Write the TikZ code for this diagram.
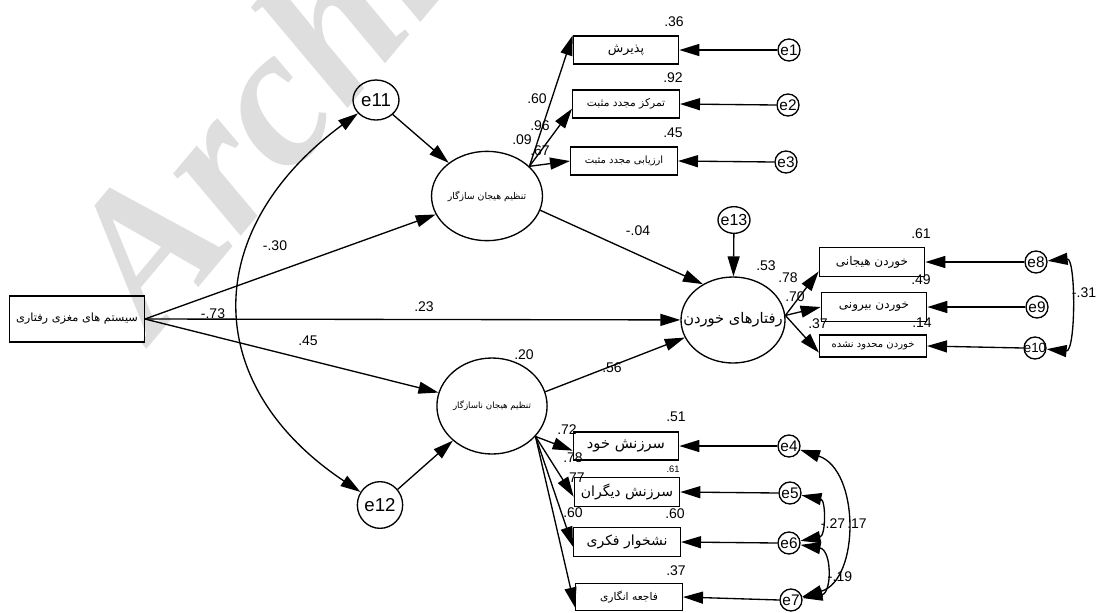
\documentclass[tikz,border=0pt]{standalone}
\usepackage{fontspec}
\setmainfont{Liberation Sans}
\newfontfamily\farsi[Script=Arabic]{DejaVu Sans}
\newfontfamily\wmfont{Liberation Serif}
\TeXXeTstate=1
\usetikzlibrary{arrows.meta,shapes.geometric}
\newcommand{\fatext}[1]{{\farsi\beginR #1\endR}}
\newcommand{\fs}[1]{\fontsize{#1}{#1}\selectfont}
\tikzset{
	obs/.style={draw, line width=1pt, inner sep=0pt, minimum width=79pt, minimum height=21pt},
	lat/.style={draw, ellipse, line width=1pt, inner sep=0pt},
	err/.style={draw, circle, line width=1pt, inner sep=-4pt, minimum size=16.5pt, font=\fs{11.5}},
	reg/.style={line width=1pt, -{Triangle[length=15pt,width=9pt]}},
	cov/.style={line width=1pt, {Triangle[length=15pt,width=9pt]}-{Triangle[length=15pt,width=9pt]}},
	est/.style={inner sep=0pt, font=\fs{10.5}},
	wmark/.style={anchor=base west, rotate=50, text=black!13, font=\wmfont\bfseries\itshape\fs{150}}
}

\begin{document}
\begin{tikzpicture}[x=0.75pt,y=0.75pt,yscale=-1,xscale=1]
\useasboundingbox (0,0) rectangle (1099,612);

% watermark
\begin{scope}
\clip (0,0) rectangle (1099,612);
\node[wmark] (mark) at (150,345) {Archive of SID};
\end{scope}

% latent variables
\node[obs, minimum width=101pt, minimum height=34.5pt, font=\fs{8.5}] (brain) at (77,319) {\fatext{سیستم های مغزی رفتاری}};
\node[lat, minimum width=70.5pt, minimum height=67pt, font=\fs{7}] (adapt) at (487,196) {\fatext{تنظیم هیجان سازگار}};
\node[lat, minimum width=78pt, minimum height=72pt, font=\fs{6.5}] (malad) at (492,406) {\fatext{تنظیم هیجان ناسازگار}};
\node[lat, minimum width=78pt, minimum height=64.5pt, inner sep=-10pt, font=\fs{11}] (eat) at (733,320) {\fatext{رفتارهای خوردن}};

% disturbances
\node[lat, minimum width=34.5pt, minimum height=30pt, font=\fs{14}] (e11) at (376,100) {e11};
\node[lat, minimum width=34pt, minimum height=35pt, font=\fs{14}] (e12) at (380,505) {e12};
\node[lat, minimum width=24pt, minimum height=20pt, inner sep=-3pt, font=\fs{12}] (e13) at (734,220) {e13};

% indicators
\node[obs, font=\fs{9.5}] (b1) at (626,50) {\fatext{پذیرش}};
\node[obs, minimum width=80pt, font=\fs{8}] (b2) at (626,104) {\fatext{تمرکز مجدد مثبت}};
\node[obs, minimum width=80pt, font=\fs{7.5}] (b3) at (624,161) {\fatext{ارزیابی مجدد مثبت}};
\node[obs, minimum height=22pt, font=\fs{9}] (b8) at (872,262) {\fatext{خوردن هیجانی}};
\node[obs, minimum height=22pt, font=\fs{9}] (b9) at (874,307) {\fatext{خوردن بیرونی}};
\node[obs, minimum width=80pt, minimum height=16.5pt, font=\fs{7.5}] (b10) at (873,346) {\fatext{خوردن محدود نشده}};
\node[obs, font=\fs{11}] (b4) at (626,446) {\fatext{سرزنش خود}};
\node[obs, minimum height=22pt, font=\fs{10.5}] (b5) at (627,492) {\fatext{سرزنش دیگران}};
\node[obs, minimum width=80pt, minimum height=22pt, font=\fs{10.5}] (b6) at (627,542) {\fatext{نشخوار فکری}};
\node[obs, minimum width=80pt, minimum height=20pt, font=\fs{8}] (b7) at (629,597) {\fatext{فاجعه انگاری}};

% errors
\node[err] (e1) at (789,50) {e1};
\node[err] (e2) at (788,105) {e2};
\node[err] (e3) at (786,162) {e3};
\node[err] (e8) at (1036,262) {e8};
\node[err] (e9) at (1037,307) {e9};
\node[err, font=\fs{10}] (e10) at (1035,348) {e10};
\node[err] (e4) at (789,446) {e4};
\node[err] (e5) at (790,493) {e5};
\node[err] (e6) at (789,543) {e6};
\node[err] (e7) at (791,600) {e7};

% structural paths
\draw[reg] (brain.east) -- (adapt);
\draw[reg] (brain.east) -- (eat);
\draw[reg] (brain.east) -- (malad);
\draw[reg] (e11) -- (adapt);
\draw[reg] (e12) -- (malad);
\draw[reg] (e13) -- (eat);
\draw[reg] (adapt.-15) -- (eat.130);
\draw[reg] (malad.15) -- (eat.200);

% loadings
\draw[reg] (adapt.35) -- (b1.north west);
\draw[reg] (adapt.35) -- (b2.185);
\draw[reg] (adapt.35) -- (b3.west);
\draw[reg] (eat.5) -- (b8.190);
\draw[reg] (eat.5) -- (b9.west);
\draw[reg] (eat.5) -- (b10.187);
\draw[reg] (malad.-35) -- (b4.185);
\draw[reg] (malad.-35) -- (b5.185);
\draw[reg] (malad.-35) -- (b6.185);
\draw[reg] (malad.-35) -- (b7.191);

% error arrows
\foreach \e/\b in {e1/b1,e2/b2,e3/b3,e8/b8,e9/b9,e10/b10,e4/b4,e5/b5,e6/b6,e7/b7}
	\draw[reg] (\e.west) -- (\b.east);

% covariances
\draw[cov] (e11) .. controls (200,230) and (200,385) .. (e12);
\draw[cov] (e8) .. controls (1076,258) and (1076,352) .. (e10);
\draw[cov] (e4) .. controls (860,470) and (860,580) .. (e7);
\draw[cov] (e5) .. controls (826,500) and (826,536) .. (e6);
\draw[cov] (e6) .. controls (832,550) and (832,593) .. (e7);

% estimates
\node[est] (r1) at (674,22) {.36};
\node[est] (r2) at (673,78) {.92};
\node[est] (r3) at (673,133) {.45};
\node[est] (l1) at (537,99) {.60};
\node[est] (l2) at (540,126) {.96};
\node[est] (l0) at (522,140) {.09};
\node[est] (l3) at (540,151) {.67};
\node[est] (p1) at (275,246) {-.30};
\node[est] (p2) at (424,307) {.23};
\node[est] (p3) at (213,314) {-.73};
\node[est] (p4) at (308,341) {.45};
\node[est] (p5) at (638,231) {-.04};
\node[est] (p6) at (612,368) {.56};
\node[est] (r13) at (766,266) {.53};
\node[est] (r12) at (524,355) {.20};
\node[est] (r8) at (921,234) {.61};
\node[est] (r9) at (921,280) {.49};
\node[est] (r10) at (922,323) {.14};
\node[est] (l8) at (788,278) {.78};
\node[est] (l9) at (795,297) {.70};
\node[est] (l10) at (818,324) {.37};
\node[est] (c1) at (1084,293) {-.31};
\node[est] (r4) at (676,417) {.51};
\node[est, font=\fs{7}] (r5) at (673,469) {.61};
\node[est] (r6) at (675,514) {.60};
\node[est] (r7) at (676,571) {.37};
\node[est] (l4) at (567,430) {.72};
\node[est] (l5) at (573,458) {.78};
\node[est] (l6) at (575,478) {.77};
\node[est] (l7) at (573,513) {.60};
\node[est] (c2) at (833,524) {-.27};
\node[est] (c3) at (857,524) {.17};
\node[est] (c4) at (840,577) {-.19};

\end{tikzpicture}
\end{document}
